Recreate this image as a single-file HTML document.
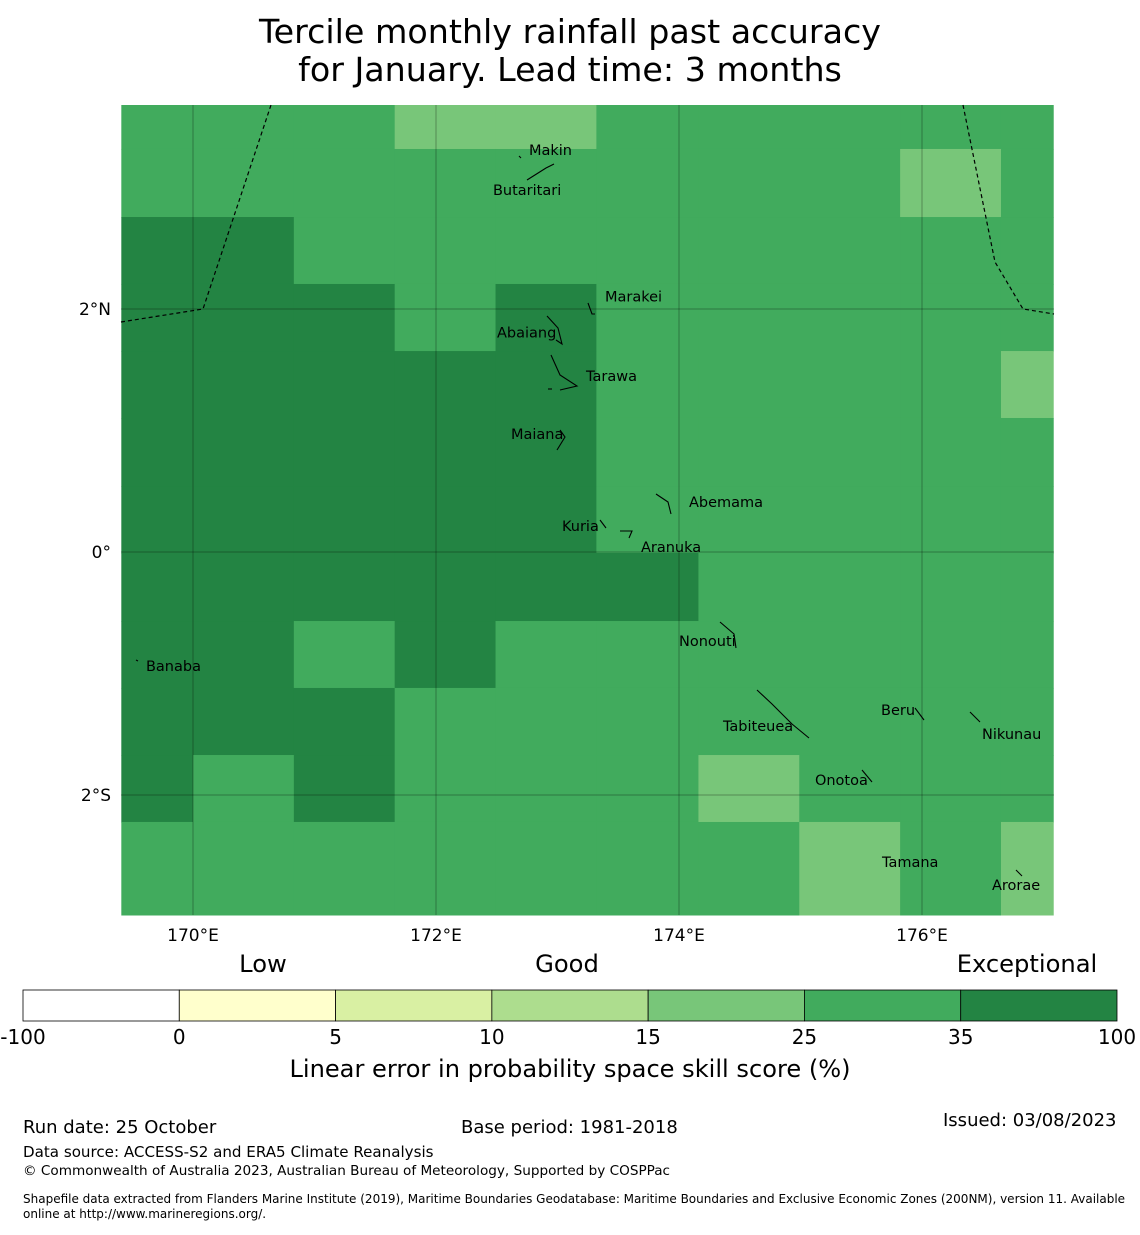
<!DOCTYPE html>
<html><head><meta charset="utf-8"><style>
body{margin:0;background:#fff;font-family:"Liberation Sans","DejaVu Sans",sans-serif;}
svg text{font-family:"DejaVu Sans","Liberation Sans",sans-serif;}
</style></head><body>
<svg id="chart" width="1140" height="1230" xmlns="http://www.w3.org/2000/svg">
<text x="570" y="43" font-size="33.3" text-anchor="middle">Tercile monthly rainfall past accuracy</text>
<text x="570" y="81" font-size="33.3" text-anchor="middle">for January. Lead time: 3 months</text>
<g id="map"></g>
<g id="cbar"></g>
<text x="263" y="972" font-size="24.2" text-anchor="middle">Low</text>
<text x="567" y="972" font-size="24.2" text-anchor="middle">Good</text>
<text x="1027" y="972" font-size="24.2" text-anchor="middle">Exceptional</text>
<text x="570" y="1077" font-size="24.1" text-anchor="middle">Linear error in probability space skill score (%)</text>
<text x="23" y="1133" font-size="18">Run date: 25 October</text>
<text x="461" y="1133" font-size="18">Base period: 1981-2018</text>
<text x="943" y="1126" font-size="18">Issued: 03/08/2023</text>
<text x="23" y="1157" font-size="15.1">Data source: ACCESS-S2 and ERA5 Climate Reanalysis</text>
<text x="23" y="1175" font-size="13.6">© Commonwealth of Australia 2023, Australian Bureau of Meteorology, Supported by COSPPac</text>
<text x="23" y="1203" font-size="12">Shapefile data extracted from Flanders Marine Institute (2019), Maritime Boundaries Geodatabase: Maritime Boundaries and Exclusive Economic Zones (200NM), version 11. Available</text>
<text x="23" y="1218" font-size="12">online at http://www.marineregions.org/.</text>
</svg>
<script>
const NS="http://www.w3.org/2000/svg";
const colors=["#ffffff","#ffffcc","#d9f0a3","#addd8e","#78c679","#41ab5d","#238443"];
const binEdges=["-100","0","5","10","15","25","35","100"];
// grid cell categories, rows top->bottom, cols left->right
const gridRows=[
"5554455555",
"5555555545",
"6655555555",
"6665655555",
"6666655554",
"6666655555",
"6666655555",
"6666665555",
"6656555555",
"6665555555",
"6565554555",
"5555555454"];
const colEdgesLon=[169.41,170.0,170.83,171.66,172.49,173.32,174.16,174.99,175.82,176.65,177.08];
const rowEdgesLat=[3.75,3.317,2.757,2.206,1.654,1.103,0.543,-0.008,-0.568,-1.119,-1.671,-2.222,-3.1];
const lonTicks=[170,172,174,176];
const latTicks=[2,0,-2];
const latLabels=["2°N","0°","2°S"];
const islandNames=["Makin","Butaritari","Marakei","Abaiang","Tarawa","Maiana","Abemama","Kuria","Aranuka","Nonouti","Banaba","Tabiteuea","Beru","Nikunau","Onotoa","Tamana","Arorae"];
const islandLon=[172.765,172.469,173.391,172.502,173.235,172.617,174.082,173.037,173.687,174.0,169.613,174.362,175.663,176.494,175.119,175.671,176.576];
const islandLat=[3.309,2.979,2.104,1.807,1.449,0.971,0.412,0.214,0.041,-0.733,-0.938,-1.432,-1.300,-1.498,-1.877,-2.551,-2.741];
const X0=121,X1=1054,Y0=105,Y1=915;
function x(lon){return 193+(lon-170)*121.5;}
function y(lat){return 552-lat*121.5;}
const map=document.getElementById('map');
function mk(t,a,p){const e=document.createElementNS(NS,t);for(const k in a)e.setAttribute(k,a[k]);(p||map).appendChild(e);return e;}
gridRows.forEach((row,r)=>{for(let c=0;c<row.length;c++){
 const x0=Math.max(X0,x(colEdgesLon[c])),x1=Math.min(X1,x(colEdgesLon[c+1]));
 const y0=Math.max(Y0,y(rowEdgesLat[r])),y1=Math.min(Y1,y(rowEdgesLat[r+1]));
 const e=mk('rect',{x:x0,y:y0,width:x1-x0+0.5,height:y1-y0+0.5,fill:colors[+row[c]]});
 
 
}});
lonTicks.forEach(l=>{const e=mk('line',{x1:x(l),x2:x(l),y1:Y0,y2:Y1,stroke:"#000","stroke-opacity":0.3,"stroke-width":1});
 
 const t=mk('text',{x:x(l),y:941,"font-size":17,"text-anchor":"middle"});t.textContent=l+"°E";
 });
latTicks.forEach((l,i)=>{const e=mk('line',{x1:X0,x2:X1,y1:y(l),y2:y(l),stroke:"#000","stroke-opacity":0.3,"stroke-width":1});
 
 const t=mk('text',{x:111,y:y(l)+6,"font-size":17,"text-anchor":"end"});t.textContent=latLabels[i];
 });
let b=mk('polyline',{points:"121,322 203,309 271,105",fill:"none",stroke:"#000","stroke-dasharray":"4,3","stroke-width":1.2});

b=mk('polyline',{points:"963,105 995,262 1023,309 1054,314",fill:"none",stroke:"#000","stroke-dasharray":"4,3","stroke-width":1.2});

const outlines=["M547,316 L558,328 L562,344 L556,340","M551,355 L560,375 L577,386 L560,390","M588,303 L592,314 L595,314","M560,430 L565,437 L557,450","M656,494 L668,502 L671,514","M600,520 L606,528","M620,531 L632,531 L629,538","M720,622 L734,634 L736,648","M757,690 L772,704 L792,724 L809,738","M915,708 L924,720","M970,712 L980,722","M862,770 L872,782","M527,180 L546,168 L554,164","M1016,870 L1022,876","M136,660 L138,661","M519,156 L521,158","M548,389 L552,389"];
outlines.forEach(p=>{const e=mk('path',{d:p,fill:"none",stroke:"#000","stroke-width":1.1});
 });
islandNames.forEach((n,i)=>{
 const t=mk('text',{x:x(islandLon[i]),y:y(islandLat[i])+5,"font-size":14.5});t.textContent=n;
 });
const cb=document.getElementById('cbar');const w=(1117-23)/7;
colors.forEach((c,i)=>{const e=mk('rect',{x:23+i*w,y:990,width:w,height:31,fill:c,stroke:"#000","stroke-width":0.8},cb);
 });
binEdges.forEach((s,i)=>{const t=mk('text',{x:23+i*w,y:1044,"font-size":20,"text-anchor":"middle"},cb);t.textContent=s;
 });
</script>
</body></html>
